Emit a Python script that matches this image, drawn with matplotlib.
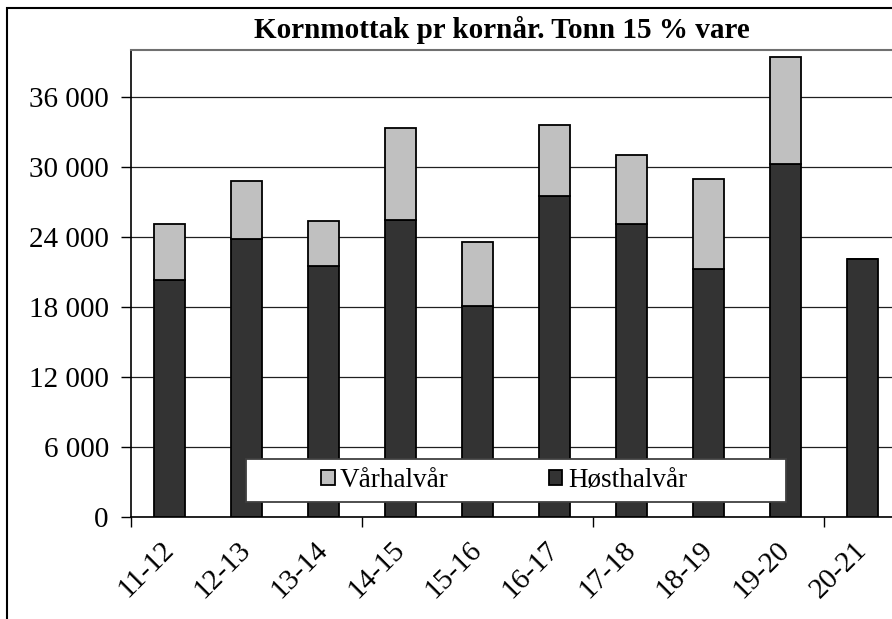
import numpy as np
import matplotlib.pyplot as plt
from matplotlib.patches import Rectangle
from matplotlib.ticker import FuncFormatter

# kornår and tonnes
years = ['11-12', '12-13', '13-14', '14-15', '15-16',
         '16-17', '17-18', '18-19', '19-20', '20-21']
host = [20300, 23800, 21500, 25450, 18050, 27500, 25100, 21250, 30250, 22100]
var = [4800, 5000, 3850, 7900, 5500, 6100, 5900, 7750, 9150, 0]
yticks = [0, 6000, 12000, 18000, 24000, 30000, 36000]

plt.rcParams['font.family'] = ['Liberation Serif', 'DejaVu Serif']

W, H = 892, 619
fig = plt.figure(figsize=(W / 100, H / 100), dpi=100)
# plot area runs past the right edge, as in the cropped original
ax = fig.add_axes([131 / W, 1 - 517 / H, (901 - 131) / W, (517 - 50.3) / H])

x = np.arange(len(years))
ax.bar(x, host, width=0.40, color='#333333', edgecolor='black', lw=1.3,
       label='Høsthalvår', zorder=3)
ax.bar(x, var, width=0.40, bottom=host, color='#c0c0c0', edgecolor='black',
       lw=1.3, label='Vårhalvår', zorder=3)

ax.set_xlim(-0.5, len(years) - 0.5)
ax.set_ylim(0, 40000)
ax.set_yticks(yticks)
ax.yaxis.set_major_formatter(FuncFormatter(lambda v, p: f'{int(v):,}'.replace(',', ' ')))
ax.yaxis.grid(True, color='#202020', lw=0.9)
ax.set_axisbelow(True)

ax.set_xticks(x)
ax.set_xticklabels(years, rotation=45, ha='right', va='center', rotation_mode='anchor')
ax.set_xticks([-0.5, 2.5, 5.5, 8.5], minor=True)
ax.tick_params(axis='x', which='major', length=0, pad=21, labelsize=21)
ax.tick_params(axis='x', which='minor', length=7, width=1, direction='out')
ax.tick_params(axis='y', length=7, width=1, pad=9, labelsize=21)

ax.spines['right'].set_visible(False)
ax.spines['top'].set_color('#707070')
ax.spines['top'].set_linewidth(1.5)
ax.spines['left'].set_linewidth(1.2)
ax.spines['bottom'].set_linewidth(1.2)

fig.text(502 / W, 1 - 30 / H, 'Kornmottak pr kornår. Tonn 15 % vare',
         ha='center', va='center', fontsize=21, fontweight='bold')

# legend box inside the plot area
ax.add_patch(Rectangle((246 / W, 1 - 502 / H), 540 / W, 43 / H, transform=fig.transFigure,
                       facecolor='white', edgecolor='#404040', lw=1.3, zorder=4, clip_on=False))
handles, labels = ax.get_legend_handles_labels()
leg = ax.legend(handles[::-1], labels[::-1], loc='center', ncol=2,
                bbox_to_anchor=(504 / W, 1 - 480.5 / H), bbox_transform=fig.transFigure,
                frameon=False, fontsize=19.5, handlelength=0.5, handleheight=0.5,
                handletextpad=0.2, columnspacing=3.7)
leg.set_zorder(5)

# outer chart border
fig.patches.append(Rectangle((6.5 / W, -0.1), 1.2, (H - 8) / H + 0.1, transform=fig.transFigure,
                             fill=False, edgecolor='black', lw=1.5))

fig.savefig('out.png', dpi=100)
